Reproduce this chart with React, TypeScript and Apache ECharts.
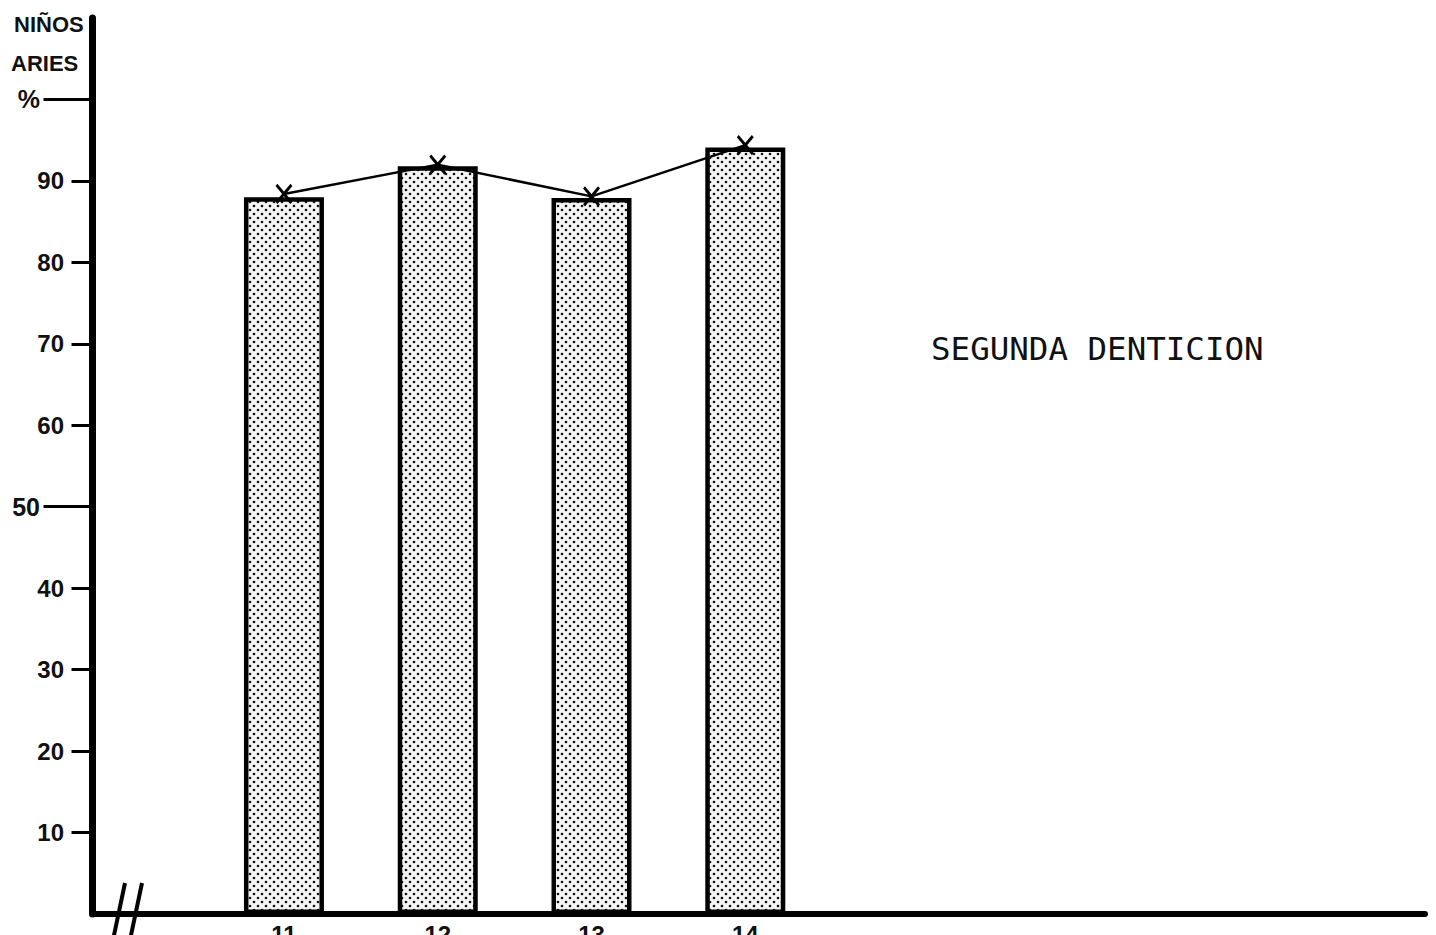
import React, { useEffect, useRef } from "react";
import * as echarts from "echarts";

const ages = [11, 12, 13, 14];
const barValues = [88.0, 91.8, 87.9, 94.1];
const lineValues = [88.4, 92.0, 88.1, 94.4];
const shortTicks = [10, 20, 30, 40, 60, 70, 80, 90];
const longTicks = [50, 100];
const titleText = "SEGUNDA DENTICION";
const axisNameLines = ["NIÑOS", "ARIES"];

function makeDots(): HTMLCanvasElement {
  const c = document.createElement("canvas");
  c.width = 8;
  c.height = 8;
  const ctx = c.getContext("2d")!;
  ctx.fillStyle = "#f4f4f4";
  ctx.fillRect(0, 0, 8, 8);
  ctx.fillStyle = "#111";
  [[2, 2], [6, 6]].forEach(([x, y]) => {
    ctx.beginPath();
    ctx.arc(x, y, 1.3, 0, Math.PI * 2);
    ctx.fill();
  });
  return c;
}

export default function App() {
  const ref = useRef<HTMLDivElement>(null);
  useEffect(() => {
    if (!ref.current) return;
    const chart = echarts.init(ref.current, null, { renderer: "svg" });
    const dots = makeDots();
    const labelFont = {
      fontFamily: "Liberation Sans",
      fontWeight: "bold" as const,
      fontSize: 24,
      color: "#111",
    };
    chart.setOption({
      animation: false,
      backgroundColor: "#fff",
      title: {
        text: titleText,
        left: 931,
        top: 332,
        padding: 0,
        textStyle: {
          fontFamily: "DejaVu Sans Mono",
          fontWeight: "normal",
          fontSize: 32.5,
          color: "#111",
        },
      },
      grid: { left: 92.5, right: 11, top: 18, bottom: 21, containLabel: false, outerBoundsMode: "none" },
      xAxis: {
        type: "value",
        min: 9.755,
        max: 18.42,
        axisLine: { show: true, lineStyle: { color: "#000", width: 6, cap: "round" } },
        axisTick: { show: false },
        splitLine: { show: false },
        axisLabel: { customValues: ages, margin: 8, ...labelFont },
      },
      yAxis: [
        {
          type: "value",
          min: 0,
          max: 110,
          axisLine: { show: true, lineStyle: { color: "#000", width: 7, cap: "round" } },
          axisTick: { show: true, customValues: shortTicks, length: 21, lineStyle: { color: "#000", width: 3 } },
          splitLine: { show: false },
          axisLabel: { customValues: shortTicks, margin: 28.5, ...labelFont },
        },
        {
          type: "value",
          min: 0,
          max: 110,
          position: "left",
          axisLine: { show: false },
          axisTick: { show: true, customValues: longTicks, length: 49, lineStyle: { color: "#000", width: 3 } },
          splitLine: { show: false },
          axisLabel: {
            customValues: longTicks,
            margin: 52.5,
            formatter: (v: number) => (v === 100 ? "%" : String(v)),
            ...labelFont,
            fontSize: 25,
          },
        },
      ],
      series: [
        {
          type: "bar",
          data: ages.map((a, i) => [a, barValues[i]]),
          barWidth: 80,
          itemStyle: {
            color: { image: dots, repeat: "repeat", imageWidth: 8, imageHeight: 8 },
            borderColor: "#000",
            borderWidth: 4.5,
          },
        },
        {
          type: "line",
          data: ages.map((a, i) => [a, lineValues[i]]),
          lineStyle: { color: "#000", width: 2.5 },
          symbol: "path://M0,0L10,12M10,0L0,12",
          symbolSize: [15, 18],
          itemStyle: { color: "rgba(0,0,0,0)", borderColor: "#000", borderWidth: 3 },
          z: 5,
        },
      ],
      graphic: [
        {
          type: "text",
          left: 14,
          top: 13,
          style: { text: axisNameLines[0], fill: "#111", font: "bold 22px 'Liberation Sans'" },
        },
        {
          type: "text",
          left: 11,
          top: 52,
          style: { text: axisNameLines[1], fill: "#111", font: "bold 22px 'Liberation Sans'" },
        },
        {
          type: "line",
          shape: { x1: 125, y1: 883, x2: 113, y2: 940 },
          style: { stroke: "#000", lineWidth: 4 },
        },
        {
          type: "line",
          shape: { x1: 142, y1: 883, x2: 130, y2: 940 },
          style: { stroke: "#000", lineWidth: 4 },
        },
      ],
    });
    return () => chart.dispose();
  }, []);
  return (
    <div
      ref={ref}
      style={{ position: "fixed", left: 0, top: 0, width: 1436, height: 935, overflow: "hidden" }}
    />
  );
}
